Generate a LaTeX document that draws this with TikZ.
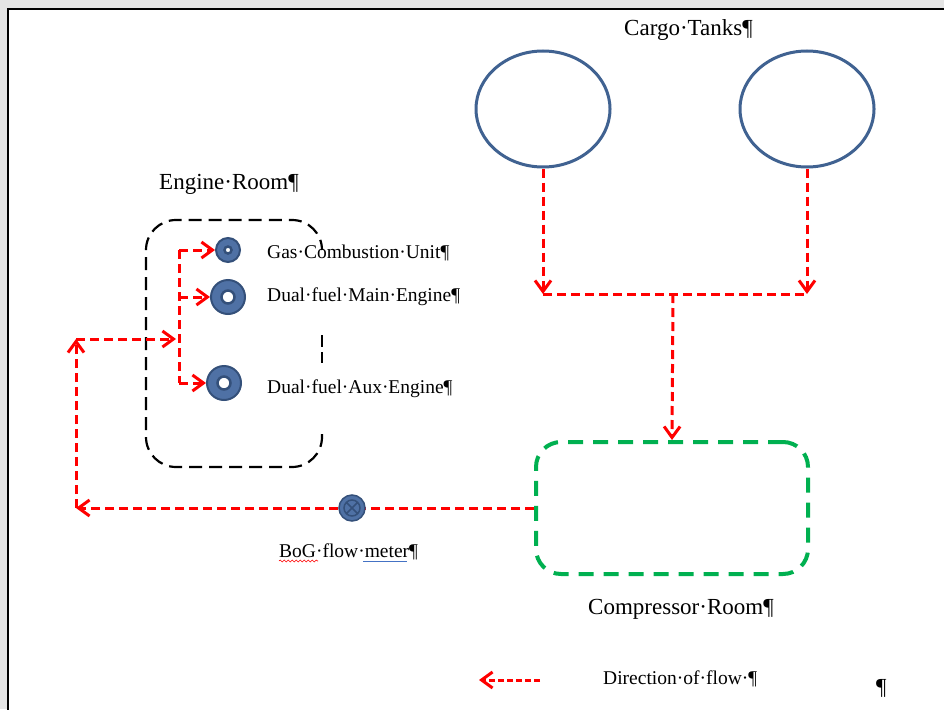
\documentclass[tikz,border=0pt]{standalone}
\usepackage{fontspec}
\setmainfont{Liberation Serif}
\usetikzlibrary{arrows.meta,shapes.geometric,decorations.pathmorphing}

\definecolor{tankblue}{RGB}{64,98,145}
\definecolor{engblue}{RGB}{79,113,165}
\definecolor{engdark}{RGB}{52,80,122}
\definecolor{roomgreen}{RGB}{0,176,80}
\definecolor{margingray}{RGB}{228,228,228}
\definecolor{spellblue}{RGB}{68,114,196}

\begin{document}
\begin{tikzpicture}[x=1pt,y=-1pt,
    pipe/.style={draw=red, line width=3pt, dash pattern=on 9pt off 5pt},
    flow/.style={pipe, -{Straight Barb[length=11pt,width=16pt]}},
    tank/.style={ellipse, draw=tankblue, line width=3pt, minimum width=134pt, minimum height=116pt, inner sep=0pt},
    engine/.style args={#1/#2}{circle, draw=engdark, line width=2pt, fill=engblue, minimum size=#1, inner sep=0pt,
        path picture={\draw[engdark, fill=white, line width=2.5pt] (path picture bounding box.center) circle (#2);}},
    meter/.style={circle, draw=engdark, line width=1.5pt, fill=engblue, minimum size=26pt, inner sep=0pt,
        path picture={\draw[engdark, line width=1.5pt] (path picture bounding box.center) circle (8pt)
            ++(-5.5,-5.5) -- ++(11,11) ++(0,-11) -- ++(-11,11);}},
    roomname/.style={anchor=base west, inner sep=0pt, font=\fontsize{23}{27}\selectfont},
    itemname/.style={anchor=base west, inner sep=0pt, font=\fontsize{19.5}{23}\selectfont}]

    \useasboundingbox (0,0) rectangle (944,709);
    % page edge
    \fill[margingray] (0,0) rectangle (944,709);
    \fill[white] (8,9) rectangle (944,709);
    \draw[line width=2pt] (8,712) -- (8,9) -- (946,9);

    % cargo tanks
    \node[tank] (tankA) at (543,109) {};
    \node[tank] (tankB) at (807,109) {};
    \node[roomname] (cargo) at (624,36) {Cargo·Tanks¶};

    % compressor room
    \node[draw=roomgreen, line width=4pt, dash pattern=on 15pt off 10pt, rounded corners=25pt,
          minimum width=272pt, minimum height=132pt] (comp) at (672,508) {};
    \node[roomname] (comptxt) at (588,614) {Compressor·Room¶};

    % engine room
    \draw[line width=2.2pt, dash pattern=on 13pt off 7pt, rounded corners=30pt]
        (322,434) -- (322,467) -- (146,467) -- (146,220) -- (322,220) -- (322,250);
    \draw[line width=2.2pt, dash pattern=on 12pt off 5pt] (322,335) -- (322,363);
    \node[roomname] (engroom) at (159,189) {Engine·Room¶};

    \node[engine=24pt/3.5pt] (gcu) at (228,250) {};
    \node[engine=34pt/6.5pt] (dfme) at (228,297) {};
    \node[engine=34pt/6.5pt] (dfae) at (224,383) {};
    \node[itemname] (gcutxt) at (267,258) {Gas·Combustion·Unit¶};
    \node[itemname] (dfmetxt) at (267,301) {Dual·fuel·Main·Engine¶};
    \node[itemname] (dfaetxt) at (267,393) {Dual·fuel·Aux·Engine¶};

    % flow lines
    \coordinate (hdr) at (673,294);
    \coordinate (ret) at (76,508);
    \coordinate (feed) at (76,339);
    \coordinate (dist) at (179,339);

    \draw[flow] (tankA.south) -- (tankA.south |- hdr);
    \draw[flow] (tankB.south) -- (tankB.south |- hdr);
    \draw[pipe] (tankA.south |- hdr) -- (tankB.south |- hdr);
    \draw[flow] (hdr) -- (comp.north);

    \draw[flow] (comp.west) -- (ret);
    \draw[flow] (ret) -- (feed);
    \draw[flow] (feed) -- ([xshift=-3pt]dist);
    \draw[pipe] (dist |- gcu) -- (dist |- dfae);
    \draw[flow] (dist |- gcu) -- (gcu.west);
    \draw[flow] (dist |- dfme) -- (dfme.west);
    \draw[flow] (dist |- dfae) -- (dfae.west);

    % flow meter
    \node[meter] (bogm) at (352,508) {};
    \node[itemname] (bog) at (279,557) {BoG·flow·meter¶};
    \draw[red, line width=0.6pt, decorate, decoration={snake, amplitude=1pt, segment length=4pt}]
        ([yshift=-4pt]bog.base west) -- ++(39,0);
    \draw[spellblue, line width=1pt] ([xshift=84pt,yshift=-4.5pt]bog.base west) -- ++(44,0);

    % legend
    \coordinate (legS) at (540,680);
    \coordinate (legE) at (479,680);
    \draw[flow, dash pattern=on 6pt off 3pt] (legS) -- (legE);
    \node[itemname] (dirtxt) at (603,684) {Direction·of·flow·¶};
    \node[roomname] (pil) at (876,694) {¶};

\end{tikzpicture}
\end{document}
